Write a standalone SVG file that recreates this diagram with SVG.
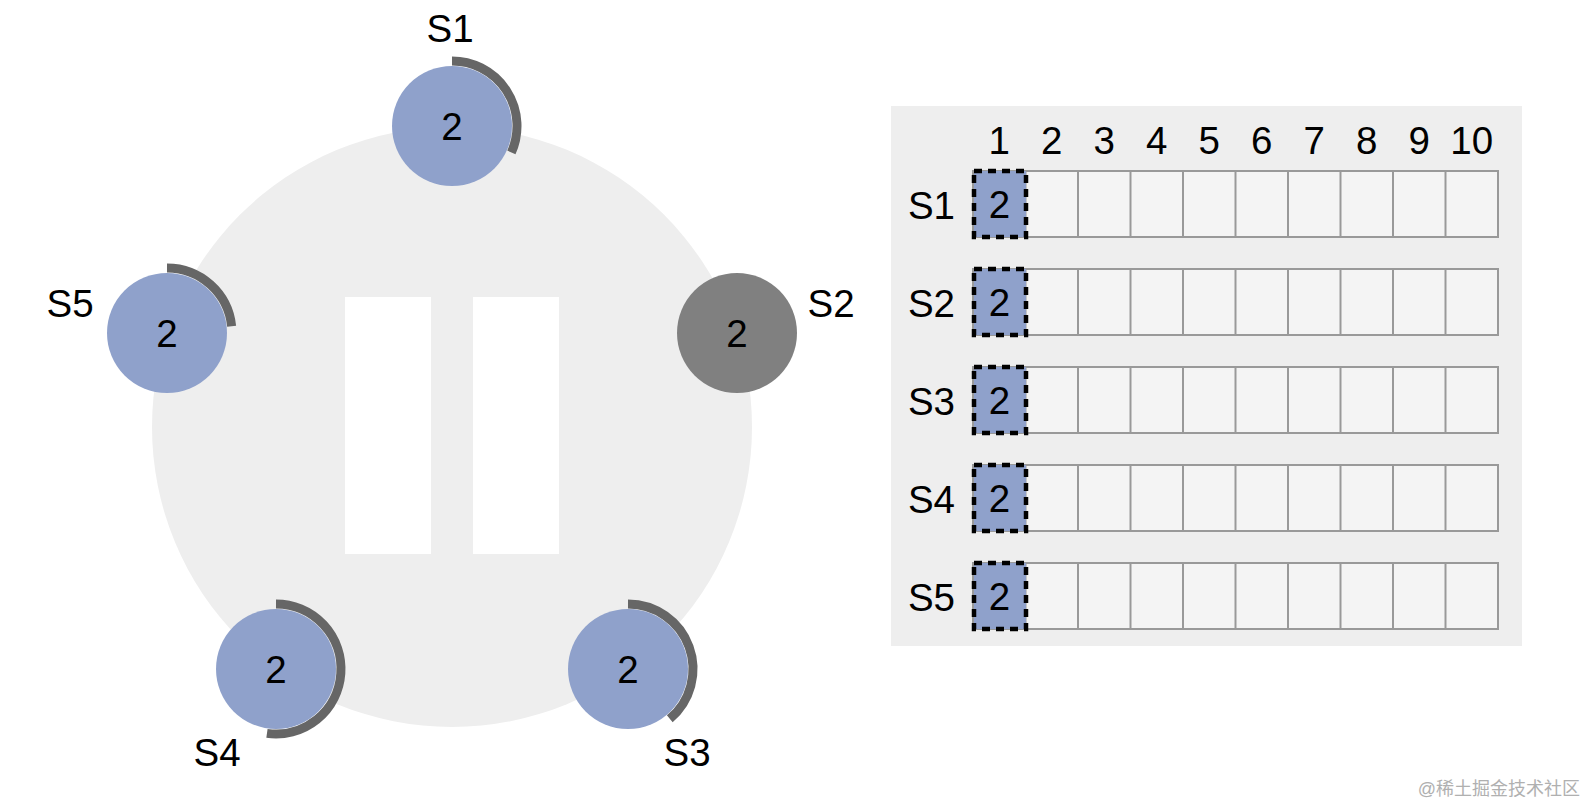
<svg xmlns="http://www.w3.org/2000/svg" width="1588" height="804" viewBox="0 0 1588 804">
<style>
text{font-family:"Liberation Sans",Arial,sans-serif;fill:#000}
.lbl{font-size:38.5px;text-anchor:middle}
.num{font-size:38.5px;text-anchor:middle}
.node{fill:#8FA1CB}
.dead{fill:#808080}
.arc{fill:none;stroke:#666666;stroke-width:9}
.cell{fill:#F4F4F4;stroke:#999999;stroke-width:2}
.first{fill:#8FA1CB;stroke:#000;stroke-width:4.5;stroke-dasharray:8 6}
.rl{font-size:38.5px;text-anchor:end}
</style>
<rect width="1588" height="804" fill="#fff"/>
<g id="ring">
<circle cx="452" cy="427" r="300" fill="#EEEEEE"/>
<rect x="345" y="297" width="86" height="257" fill="#fff"/>
<rect x="473" y="297" width="86" height="257" fill="#fff"/>
</g>
<g id="S1">
<path class="arc" d="M452 61 A65 65 0 0 1 511.38 152.44"/>
<circle class="node" cx="452" cy="126" r="60"/>
<text class="num" x="452" y="140">2</text>
<text class="lbl" x="450" y="42">S1</text>
</g>
<g id="S2">
<circle class="dead" cx="737" cy="333" r="60"/>
<text class="num" x="737" y="347">2</text>
<text class="lbl" x="831" y="317">S2</text>
</g>
<g id="S3">
<path class="arc" d="M628 604 A65 65 0 0 1 669.78 718.79"/>
<circle class="node" cx="628" cy="669" r="60"/>
<text class="num" x="628" y="683">2</text>
<text class="lbl" x="687" y="766">S3</text>
</g>
<g id="S4">
<path class="arc" d="M276 604 A65 65 0 1 1 266.95 733.37"/>
<circle class="node" cx="276" cy="669" r="60"/>
<text class="num" x="276" y="683">2</text>
<text class="lbl" x="217" y="766">S4</text>
</g>
<g id="S5">
<path class="arc" d="M167 268 A65 65 0 0 1 231.64 326.21"/>
<circle class="node" cx="167" cy="333" r="60"/>
<text class="num" x="167" y="347">2</text>
<text class="lbl" x="70" y="317">S5</text>
</g>
<g id="table">
<rect x="891" y="106" width="631" height="540" fill="#EEEEEE"/>
<g id="headers">
<text class="num" x="999.25" y="154">1</text>
<text class="num" x="1051.75" y="154">2</text>
<text class="num" x="1104.25" y="154">3</text>
<text class="num" x="1156.75" y="154">4</text>
<text class="num" x="1209.25" y="154">5</text>
<text class="num" x="1261.75" y="154">6</text>
<text class="num" x="1314.25" y="154">7</text>
<text class="num" x="1366.75" y="154">8</text>
<text class="num" x="1419.25" y="154">9</text>
<text class="num" x="1471.75" y="154">10</text>
</g>
<defs>
<g id="row">
<rect class="cell" x="973" y="0" width="525" height="66"/>
<path d="M1025.5 0v66M1078 0v66M1130.5 0v66M1183 0v66M1235.5 0v66M1288 0v66M1340.5 0v66M1393 0v66M1445.5 0v66" stroke="#999999" stroke-width="2" fill="none"/>
<rect class="first" x="974" y="0" width="52" height="66"/>
<text class="num" x="999.5" y="47">2</text>
</g>
</defs>
<g id="row-S1"><use href="#row" y="171"/><text class="rl" x="955" y="219">S1</text></g>
<g id="row-S2"><use href="#row" y="269"/><text class="rl" x="955" y="317">S2</text></g>
<g id="row-S3"><use href="#row" y="367"/><text class="rl" x="955" y="415">S3</text></g>
<g id="row-S4"><use href="#row" y="465"/><text class="rl" x="955" y="513">S4</text></g>
<g id="row-S5"><use href="#row" y="563"/><text class="rl" x="955" y="611">S5</text></g>
</g>
<text x="1580" y="795" style="font-family:'Liberation Sans','Noto Sans CJK SC',sans-serif;font-size:18px;fill:#B0B0B0;text-anchor:end">@稀土掘金技术社区</text>
</svg>
